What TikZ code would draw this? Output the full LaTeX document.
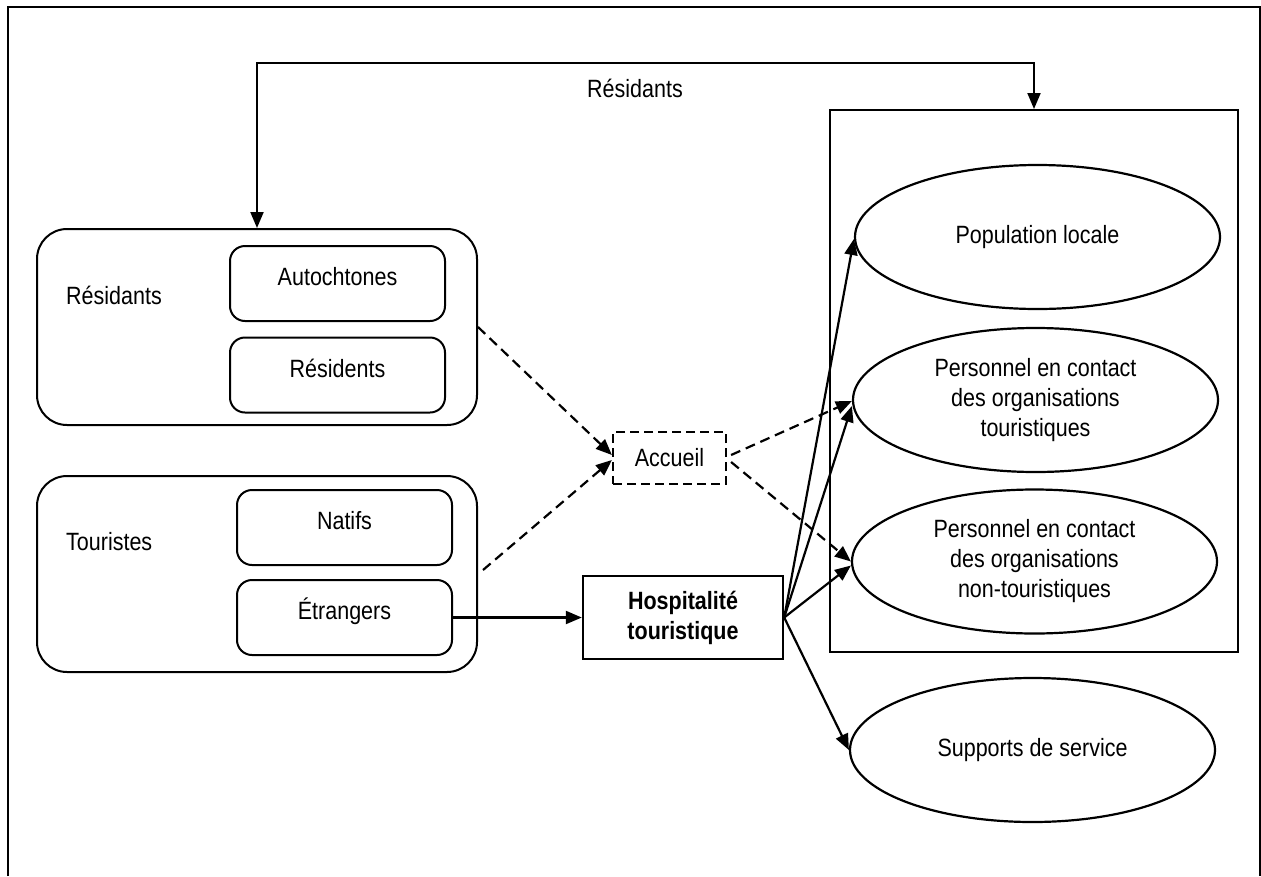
\documentclass[tikz,border=0pt]{standalone}
\usepackage{fontspec}
\setmainfont{Liberation Sans}[FakeStretch=0.86]
\usetikzlibrary{shapes.geometric,arrows.meta}
\begin{document}
\begin{tikzpicture}[x=1pt,y=-1pt,
  every node/.style={font=\fontsize{25}{30}\selectfont, inner sep=0pt},
  grp/.style={draw, line width=2pt, rounded corners=30pt, minimum width=440pt, minimum height=196pt},
  subbox/.style={draw, line width=2pt, rounded corners=15pt, minimum width=215pt, minimum height=75pt, text height=18pt, text depth=14pt},
  ell/.style={draw, ellipse, line width=2.2pt, minimum width=365pt, minimum height=144pt, align=center},
  tip/.style={-{Triangle[length=16pt,width=13pt]}},
  conn/.style={tip, line width=2.2pt},
  dconn/.style={tip, line width=2.2pt, dash pattern=on 10pt off 6pt},
  lbl/.style={anchor=base west}
]
\useasboundingbox (0,0) rectangle (1261,876);
% outer frame
\coordinate (f1) at (8,876);
\coordinate (f2) at (8,7);
\coordinate (f3) at (1260,7);
\coordinate (f4) at (1260,876);
\draw[line width=1.8pt] (f1) -- (f2) -- (f3) -- (f4);

% left groups
\node[grp] (res) at (257,327) {};
\node[grp] (tour) at (257,574) {};
\node[lbl] (resl) at (66,304) {Résidants};
\node[lbl] (tourl) at (66,550) {Touristes};
\node[subbox] (aut) at (337.5,283.5) {Autochtones};
\node[subbox] (resd) at (337.5,375) {Résidents};
\node[subbox] (nat) at (344.5,527.5) {Natifs};
\node[subbox] (etr) at (344.5,617.5) {Étrangers};

% middle
\node[draw, line width=2.2pt, dash pattern=on 9pt off 5pt, minimum width=113pt, minimum height=52pt] (acc) at (669.5,458) {Accueil};
\node[draw, line width=2.4pt, minimum width=200pt, minimum height=83pt, align=center, font=\fontsize{25}{30}\selectfont\bfseries] (hosp) at (683,617.5) {Hospitalité\\touristique};

% right
\node[draw, line width=2pt, minimum width=408pt, minimum height=542pt] (rect) at (1034,381) {};
\node[ell] (e1) at (1037.5,237) {Population locale};
\node[ell] (e2) at (1035.5,400) {Personnel en contact\\des organisations\\touristiques};
\node[ell] (e3) at (1034.5,561.5) {Personnel en contact\\des organisations\\non-touristiques};
\node[ell] (e4) at (1032.5,750) {Supports de service};

% top connector
\coordinate (topc) at (645,63);
\draw[line width=2pt, {Triangle[length=16pt,width=13pt]}-{Triangle[length=16pt,width=13pt]}] (res.north) |- (topc) -| (rect.north);
\node[anchor=base] (topl) at (635,97) {Résidants};

% dashed connectors
\draw[dconn] (res.east) -- ([yshift=3pt]acc.west);
\draw[dconn] ([xshift=5pt,yshift=4pt]tour.east) -- ([yshift=-2pt]acc.west);
\draw[dconn] ([xshift=4pt,yshift=3pt]acc.east) -- ([yshift=-1pt]e2.west);
\draw[dconn] ([xshift=4pt,yshift=-4pt]acc.east) -- (e3.west);

% solid connectors
\draw[conn] (etr.east) -- (hosp.west);
\draw[conn] (hosp.east) -- ([yshift=-2pt]e1.west);
\draw[conn] (hosp.east) -- ([yshift=-6pt]e2.west);
\draw[conn] (hosp.east) -- ([yshift=-4pt]e3.west);
\draw[conn] (hosp.east) -- (e4.west);
\end{tikzpicture}
\end{document}
